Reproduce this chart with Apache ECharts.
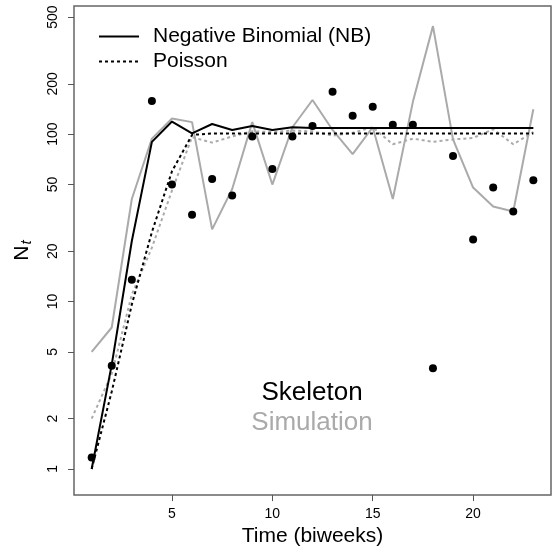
<!DOCTYPE html>
<html>
<head>
<meta charset="utf-8">
<script src="https://cdn.jsdelivr.net/npm/echarts@6/dist/echarts.min.js"></script>
<style>html,body{margin:0;padding:0;background:#fff}#c{width:552px;height:552px}</style>
</head>
<body>
<div id="c"></div>
<script>
// Time (biweeks)
const times = [1,2,3,4,5,6,7,8,9,10,11,12,13,14,15,16,17,18,19,20,21,22,23];
// Observed counts (black points)
const observed = [1.17, 4.14, 13.5, 158, 50, 33, 54, 43, 97, 62, 97, 112, 179, 129, 146, 114, 114, 4.0, 74, 23.5, 48, 34.5, 53];
// Skeletons (black)
const nbSkeleton = [1.0, 4.2, 23, 90, 119, 101, 115, 106, 112, 106, 110, 109, 109, 109, 109, 109, 109, 109, 109, 109, 109, 109, 109];
const poisSkeleton = [1.0, 2.9, 9.6, 26, 60, 99, 101, 101, 101, 101, 101, 101, 101, 101, 101, 101, 101, 101, 101, 101, 101, 101, 101];
// Simulations (gray)
const nbSimulation = [5.0, 7.0, 41, 94, 124, 118, 27, 47, 118, 50, 110, 160, 106, 76, 110, 41, 156, 442, 93, 48, 37, 34.5, 141];
const poisSimulation = [2.0, 3.7, 11, 21, 46, 96, 89, 97, 104, 103, 105, 104, 98, 102, 110, 87, 94, 90, 93, 95, 107, 87, 103];
// Axis ticks
const xTicks = [5, 10, 15, 20];
const yTicks = [1, 2, 5, 10, 20, 50, 100, 200, 500];

const pair = arr => times.map((t, i) => [t, arr[i]]);
const FONT = 'Liberation Sans, Arial, Helvetica, sans-serif';
const GRAY = '#aaaaaa';

const chart = echarts.init(document.getElementById('c'));
chart.setOption({
  animation: false,
  backgroundColor: '#ffffff',
  textStyle: { fontFamily: FONT },
  grid: { left: 74, right: 1, top: 6, bottom: 54, show: true, borderColor: '#666', borderWidth: 1.5, backgroundColor: 'transparent' },
  legend: {
    data: ['Negative Binomial (NB)', 'Poisson'],
    orient: 'vertical',
    left: 93, top: 21,
    itemWidth: 40, itemHeight: 14, itemGap: 4,
    itemStyle: { opacity: 0 },
    textStyle: { fontSize: 21, color: '#000', fontFamily: FONT, padding: [0, 0, 0, 9], lineHeight: 21 },
    selectedMode: false
  },
  xAxis: {
    type: 'value', min: 0.12, max: 23.88,
    name: 'Time (biweeks)', nameLocation: 'middle', nameGap: 29,
    nameTextStyle: { fontSize: 21, color: '#000', fontFamily: FONT },
    axisLine: { show: false },
    axisTick: { show: true, length: 6, lineStyle: { color: '#555' }, customValues: xTicks },
    axisLabel: { fontSize: 14, color: '#000', margin: 12, customValues: xTicks, fontFamily: FONT },
    splitLine: { show: false }
  },
  yAxis: {
    type: 'log', logBase: 10, min: 0.698, max: 583,
    name: '{a|N}{b|t}', nameLocation: 'middle', nameGap: 40, nameRotate: 90,
    nameTextStyle: {
      fontFamily: FONT,
      rich: {
        a: { fontSize: 21, color: '#000', fontFamily: FONT },
        b: { fontSize: 15, color: '#000', fontStyle: 'italic', fontFamily: FONT, padding: [9, 0, 0, 1] }
      }
    },
    axisLine: { show: false },
    axisTick: { show: true, length: 6, lineStyle: { color: '#555' }, customValues: yTicks },
    axisLabel: { fontSize: 14, color: '#000', margin: 14, rotate: 90, customValues: yTicks, fontFamily: FONT },
    splitLine: { show: false }
  },
  graphic: [
    { type: 'text', style: { text: 'Skeleton', fontSize: 26, fill: '#000', fontFamily: FONT, x: 312, y: 393, textAlign: 'center', textVerticalAlign: 'middle' } },
    { type: 'text', style: { text: 'Simulation', fontSize: 26, fill: GRAY, fontFamily: FONT, x: 312, y: 423, textAlign: 'center', textVerticalAlign: 'middle' } }
  ],
  series: [
    { name: 'NB simulation', type: 'line', data: pair(nbSimulation), symbol: 'none', lineStyle: { color: GRAY, width: 2 }, itemStyle: { color: GRAY }, z: 1 },
    { name: 'Poisson simulation', type: 'line', data: pair(poisSimulation), symbol: 'none', lineStyle: { color: GRAY, width: 2, type: [3, 3] }, itemStyle: { color: GRAY }, z: 2 },
    { name: 'Negative Binomial (NB)', type: 'line', data: pair(nbSkeleton), symbol: 'none', lineStyle: { color: '#000', width: 2 }, itemStyle: { color: '#000' }, z: 3 },
    { name: 'Poisson', type: 'line', data: pair(poisSkeleton), symbol: 'none', lineStyle: { color: '#000', width: 2, type: [3, 3] }, itemStyle: { color: '#000' }, z: 4 },
    { name: 'Observed', type: 'scatter', data: pair(observed), symbol: 'circle', symbolSize: 8, itemStyle: { color: '#000', opacity: 1 }, z: 5 }
  ]
});
</script>
</body>
</html>
